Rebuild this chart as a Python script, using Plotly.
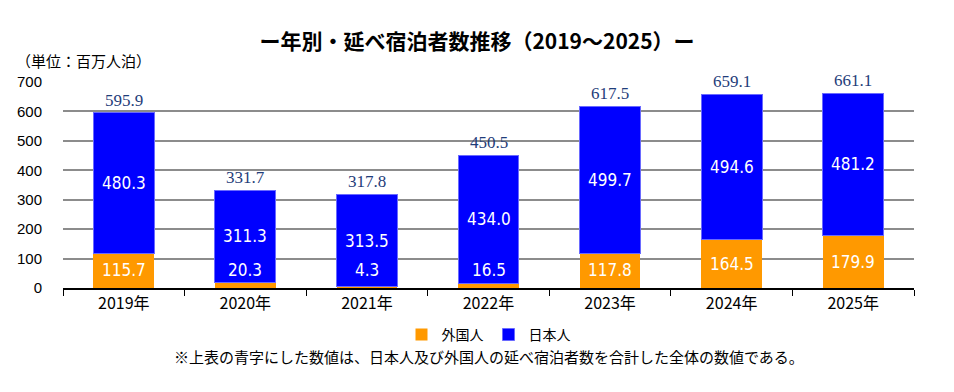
import plotly.graph_objects as go

years = ["2019年", "2020年", "2021年", "2022年", "2023年", "2024年", "2025年"]
foreign = [115.7, 20.3, 4.3, 16.5, 117.8, 164.5, 179.9]
japanese = [480.3, 311.3, 313.5, 434.0, 499.7, 494.6, 481.2]
totals = [595.9, 331.7, 317.8, 450.5, 617.5, 659.1, 661.1]
yticks = [0, 100, 200, 300, 400, 500, 600, 700]

CJK = "Noto Sans CJK JP"
fig = go.Figure()
fig.add_trace(go.Bar(x=years, y=foreign, name="外国人", marker=dict(color="#FF9900", line=dict(width=0))))
fig.add_trace(go.Bar(x=years, y=japanese, name="日本人", marker=dict(color="#0000FF", line=dict(width=1, color="#6A6AFF"))))

ann = []
for x, f, j, t in zip(years, foreign, japanese, totals):
    ann.append(dict(x=x, y=max(f / 2, 60), text=f"{f:.1f}", showarrow=False,
                    font=dict(family="DejaVu Sans Condensed", size=17, color="white"), yanchor="middle"))
    ann.append(dict(x=x, y=f + j / 2, text=f"{j:.1f}", showarrow=False,
                    font=dict(family="DejaVu Sans Condensed", size=17, color="white"), yanchor="middle"))
    ann.append(dict(x=x, y=t, text=f"{t:.1f}", showarrow=False, yshift=1,
                    font=dict(family="Liberation Serif", size=17, color="#1F3D7A"), yanchor="bottom"))

ann.append(dict(xref="paper", yref="paper", x=-0.058, y=1.045, xanchor="left", yanchor="bottom",
                text="（単位：百万人泊）", showarrow=False, font=dict(family=CJK, size=15, color="black")))
ann.append(dict(xref="paper", yref="paper", x=0.5, y=-0.27, xanchor="center", yanchor="top",
                text="※上表の青字にした数値は、日本人及び外国人の延べ宿泊者数を合計した全体の数値である。",
                showarrow=False, font=dict(family=CJK, size=15, color="black")))

fig.update_layout(
    barmode="stack", bargap=0.5,
    width=954, height=392,
    margin=dict(l=63, r=40, t=82, b=104),
    plot_bgcolor="white", paper_bgcolor="white",
    title=dict(text="ー年別・延べ宿泊者数推移（2019～2025）ー", x=0.5, xanchor="center", y=0.895, yanchor="middle",
               font=dict(family=CJK, size=21, color="black", weight="bold")),
    legend=dict(orientation="h", x=0.5, xanchor="center", y=-0.15, yanchor="top", itemwidth=30,
                font=dict(family=CJK, size=14, color="black"), traceorder="normal"),
    annotations=ann,
    xaxis=dict(type="category", tickson="boundaries", ticks="outside", ticklen=6, tickcolor="black",
               showline=True, linecolor="black", linewidth=2,
               tickfont=dict(family=CJK, size=16, color="black")),
    yaxis=dict(range=[0, 700], tickvals=yticks, showgrid=True, gridcolor="#8C8C8C", gridwidth=1.5,
               zeroline=False, tickfont=dict(family="Liberation Sans", size=15, color="black"),
               ticklabelstandoff=20),
)
fig.write_html("out.html")
